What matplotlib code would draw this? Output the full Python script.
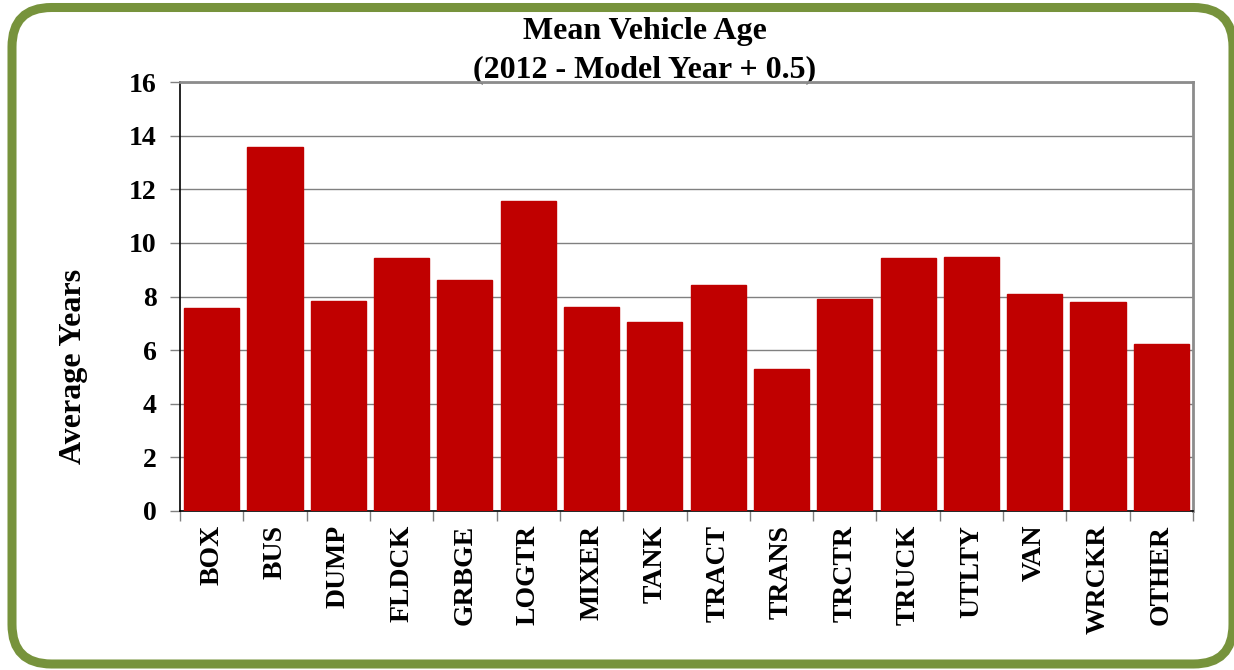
import matplotlib
matplotlib.use("Agg")
import matplotlib.pyplot as plt
from matplotlib.patches import FancyBboxPatch
import numpy as np

categories = ["BOX", "BUS", "DUMP", "FLDCK", "GRBGE", "LOGTR", "MIXER", "TANK",
              "TRACT", "TRANS", "TRCTR", "TRUCK", "UTLTY", "VAN", "WRCKR", "OTHER"]
values = [7.57, 13.58, 7.84, 9.42, 8.63, 11.57, 7.61, 7.05,
          8.43, 5.30, 7.91, 9.42, 9.48, 8.10, 7.80, 6.23]
yticks = [0, 2, 4, 6, 8, 10, 12, 14, 16]

plt.rcParams['font.family'] = ['Liberation Serif', 'DejaVu Serif']

W, H = 1234, 670
fig = plt.figure(figsize=(W / 100, H / 100), dpi=100)

bx0, by0, bx1, by1 = 12, 7.5, 1233, 664
border = FancyBboxPatch((bx0 / W, 1 - by1 / H), (bx1 - bx0) / W, (by1 - by0) / H,
                        boxstyle="round,pad=0,rounding_size=0.032",
                        transform=fig.transFigure, facecolor="white",
                        edgecolor="#77933C", linewidth=6.5, zorder=-10,
                        mutation_aspect=W / H)
fig.add_artist(border)

ax = fig.add_axes([180 / W, 1 - 511 / H, (1193 - 180) / W, (511 - 82) / H])
ax.set_zorder(5)
ax.set_facecolor("none")
x = np.arange(len(categories))
ax.bar(x, values, width=0.87, color="#C00000", edgecolor="#C00000", zorder=3)

ax.set_xlim(-0.5, len(categories) - 0.5)
ax.set_ylim(0, 16)
ax.set_yticks(yticks)
ax.set_yticklabels([str(v) for v in yticks], fontsize=20, fontweight="bold")
ax.yaxis.grid(True, color="#808080", linewidth=1, zorder=0)
ax.tick_params(axis="y", direction="out", length=7, width=1, color="#808080", pad=10)

ax.set_xticks(x)
ax.set_xticklabels(categories, rotation=90, fontsize=20, fontweight="bold")
ax.tick_params(axis="x", which="major", length=0, pad=10)
ax.set_xticks(np.arange(len(categories) + 1) - 0.5, minor=True)
ax.tick_params(axis="x", which="minor", direction="out", length=7, width=1, color="#808080")

for side in ["top", "right"]:
    ax.spines[side].set_color("#8c8c8c")
    ax.spines[side].set_linewidth(2)
for side in ["left", "bottom"]:
    ax.spines[side].set_color("black")
    ax.spines[side].set_linewidth(1.2)

fig.text(645 / W, 1 - 32 / H, "Mean Vehicle Age", ha="center", va="center",
         fontsize=23, fontweight="bold")
fig.text(645 / W, 1 - 70 / H, "(2012 - Model Year + 0.5)", ha="center", va="center",
         fontsize=23, fontweight="bold")
fig.text(74 / W, 1 - 366 / H, "Average Years", ha="center", va="center",
         rotation=90, fontsize=23, fontweight="bold")

fig.savefig("out.png", dpi=100)
